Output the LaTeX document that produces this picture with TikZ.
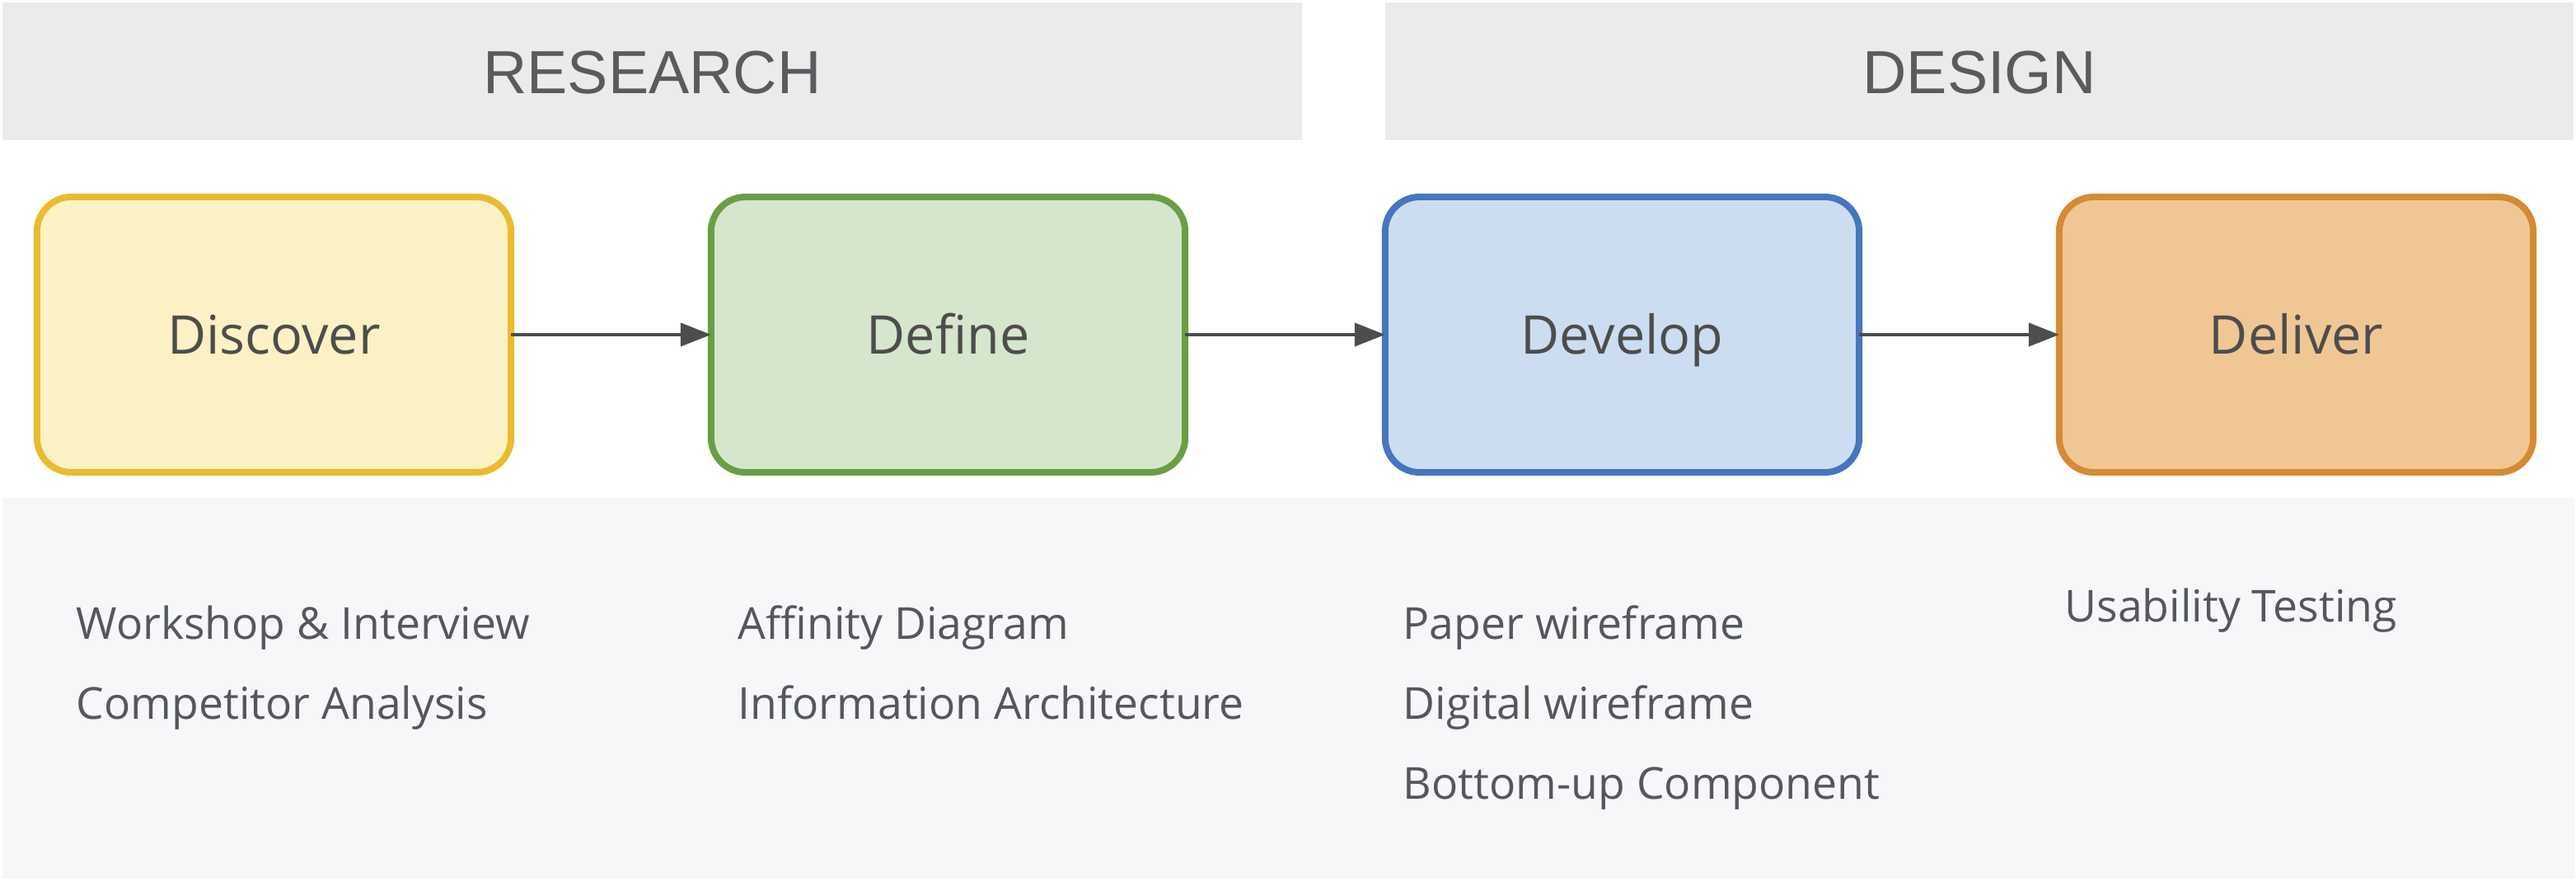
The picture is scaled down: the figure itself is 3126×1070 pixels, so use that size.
\documentclass[tikz,border=0pt]{standalone}
\usepackage{fontspec}
\setmainfont{Open Sans}
\newfontfamily\hdrfont{Liberation Sans}
\usetikzlibrary{arrows.meta}
\definecolor{hdrbg}{HTML}{EBEBEB}
\definecolor{panelbg}{HTML}{F6F7F9}
\definecolor{hdrtxt}{HTML}{595B5E}
\definecolor{boxtxt}{HTML}{4D4D4D}
\definecolor{listtxt}{HTML}{55575A}
\definecolor{arrowc}{HTML}{4D4D4D}
\definecolor{discF}{HTML}{FCF1C4}
\definecolor{discD}{HTML}{E8BC2E}
\definecolor{defF}{HTML}{D6E6CD}
\definecolor{defD}{HTML}{6A9E44}
\definecolor{devF}{HTML}{CCDDF1}
\definecolor{devD}{HTML}{4676BE}
\definecolor{delF}{HTML}{F0C794}
\definecolor{delD}{HTML}{D68A35}
\tikzset{
  phasebox/.style={rounded corners=0.42cm, line width=0.08cm, minimum width=5.75cm, minimum height=3.34cm, inner sep=0pt, outer sep=0pt, text height=0.46cm, text depth=0pt, text=boxtxt, font=\fontsize{18.4}{22}\selectfont},
  hdrbox/.style={fill=hdrbg, draw=none, inner sep=0pt, outer sep=0pt, text=hdrtxt, text height=0.53cm, text depth=0pt, font=\hdrfont\fontsize{21}{25}\selectfont},
  listitem/.style={anchor=base west, inner sep=0pt, text=listtxt, font=\fontsize{15.2}{18}\selectfont},
  flow/.style={draw=arrowc, line width=0.04cm, -{Triangle[length=0.37cm, width=0.28cm]}}
}
\begin{document}
\begin{tikzpicture}[x=0.01cm, y=-0.01cm]
\useasboundingbox (0,0) rectangle (3126,1070);
% headers
\node[hdrbox, minimum width=15.77cm, minimum height=1.67cm] (research) at (791.5,86.5) {RESEARCH};
\node[hdrbox, minimum width=14.42cm, minimum height=1.67cm] (design) at (2402,86.5) {DESIGN};
% bottom panel
\node[fill=panelbg, draw=none, inner sep=0pt, outer sep=0pt, minimum width=31.2cm, minimum height=4.62cm] (panel) at (1564,835) {};
% phase boxes
\node[phasebox, draw=discD, fill=discF] (discover) at (332.5,406) {Discover};
\node[phasebox, draw=defD, fill=defF] (define) at (1150.5,406) {Define};
\node[phasebox, draw=devD, fill=devF] (develop) at (1968.5,406) {Develop};
\node[phasebox, draw=delD, fill=delF] (deliver) at (2786.5,406) {Deliver};
% arrows
\draw[flow] (discover.east) -- (define.west);
\draw[flow] (define.east) -- (develop.west);
\draw[flow] (develop.east) -- (deliver.west);
% list items
\node[listitem] (w1) at (92,775) {Workshop \& Interview};
\node[listitem] (w2) at (92,872) {Competitor Analysis};
\node[listitem] (a1) at (895,775) {Affinity Diagram};
\node[listitem] (a2) at (895,872) {Information Architecture};
\node[listitem] (p1) at (1702,775) {Paper wireframe};
\node[listitem] (p2) at (1702,872) {Digital wireframe};
\node[listitem] (p3) at (1702,969) {Bottom-up Component};
\node[listitem] (u1) at (2505,754) {Usability Testing};
\end{tikzpicture}
\end{document}
